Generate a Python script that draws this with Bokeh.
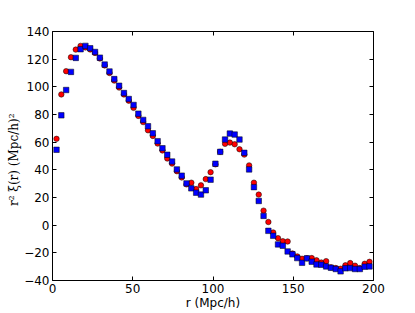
from bokeh.plotting import figure
from bokeh.models import LinearAxis, FixedTicker, Range1d
from bokeh.embed import file_html
from bokeh.resources import INLINE

# bin centres r (Mpc/h)
r = [2.5 + 3 * k for k in range(66)]

# blue squares
xi_blue = [54.5, 79.4, 97.7, 110.8, 120.9, 127.2, 129.6, 127.9, 125.2, 121.1,
           116.1, 111.1, 105.6, 100.8, 95.5, 91.2, 86.9, 80.6, 76.1, 71.5,
           66.4, 60.7, 55.6, 50.9, 46.0, 40.3, 35.8, 30.2, 26.6, 23.5,
           22.1, 25.2, 32.9, 44.4, 53.0, 61.9, 66.2, 65.5, 61.9, 52.3,
           40.3, 27.5, 17.5, 6.7, -4.1, -7.7, -13.9, -14.9, -19.0, -21.1,
           -23.8, -27.2, -24.0, -26.4, -28.4, -28.6, -29.8, -30.8, -31.7, -33.4,
           -31.2, -31.0, -31.7, -31.7, -30.0, -29.8]

# red circles
xi_red = [62.4, 94.5, 111.3, 121.4, 126.9, 129.6, 128.5, 127.0, 124.5, 120.5,
          115.5, 110.0, 104.5, 99.5, 94.5, 90.0, 84.8, 79.0, 74.5, 68.6,
          64.5, 59.0, 54.0, 48.2, 44.5, 39.0, 34.5, 29.5, 30.7, 26.1,
          28.8, 33.3, 38.3, 44.0, 53.0, 58.8, 59.7, 58.5, 54.9, 51.0,
          43.2, 30.7, 22.1, 10.5, 2.3, -5.3, -9.4, -11.6, -11.8, -20.5,
          -22.6, -24.3, -24.0, -23.8, -25.4, -27.0, -26.0, -30.5, -31.0, -31.5,
          -29.0, -27.4, -29.3, -31.0, -27.9, -26.5]

x_ticks = [0, 50, 100, 150, 200]
y_ticks = [-40, -20, 0, 20, 40, 60, 80, 100, 120, 140]

p = figure(width=410, height=312, output_backend="svg", toolbar_location=None,
           x_range=Range1d(0, 200), y_range=Range1d(-40, 140),
           min_border_left=52, min_border_right=37, min_border_top=31,
           min_border_bottom=31, x_axis_type=None, y_axis_type=None)

p.grid.visible = False
p.background_fill_color = "white"
p.border_fill_color = "white"
p.outline_line_color = "black"
p.outline_line_width = 1
p.outline_line_alpha = 1

FONT = "DejaVu Sans"


def make_axis(ticks, label=None, show_labels=True):
    ax = LinearAxis(ticker=FixedTicker(ticks=ticks))
    ax.axis_line_color = None
    ax.major_tick_in = 4
    ax.major_tick_out = 0
    ax.major_tick_line_color = "black"
    ax.minor_tick_line_color = None
    ax.major_label_text_font = FONT
    ax.major_label_text_font_size = "12px"
    ax.major_label_text_color = "black"
    ax.major_label_standoff = 3
    ax.major_label_overrides = {t: (str(t).replace("-", "\u2212")) for t in ticks}
    if not show_labels:
        ax.major_label_text_color = None
        ax.major_label_standoff = 0
    if label is not None:
        ax.axis_label = label
        ax.axis_label_text_font_style = "normal"
        ax.axis_label_text_color = "black"
        ax.axis_label_standoff = 0
    return ax


xb = make_axis(x_ticks, "r (Mpc/h)")
xb.axis_label_text_font = FONT
xb.axis_label_text_font_size = "12px"
p.add_layout(xb, "below")

yl = make_axis(y_ticks, "r\u00b2 \u03be(r)   (Mpc/h)\u00b2")
yl.axis_label_text_font = "DejaVu Serif"
yl.axis_label_text_font_size = "12px"
yl.axis_label_standoff = 0
p.add_layout(yl, "left")

p.add_layout(make_axis(x_ticks, show_labels=False), "above")
p.add_layout(make_axis(y_ticks, show_labels=False), "right")

p.scatter(r, xi_red, marker="circle", size=5.5, fill_color="#ff0000",
          line_color="black", line_width=0.5)
p.scatter(r, xi_blue, marker="square", size=5.5, fill_color="#0000ff",
          line_color="black", line_width=0.5)

open("out.html", "w").write(file_html(p, INLINE))
